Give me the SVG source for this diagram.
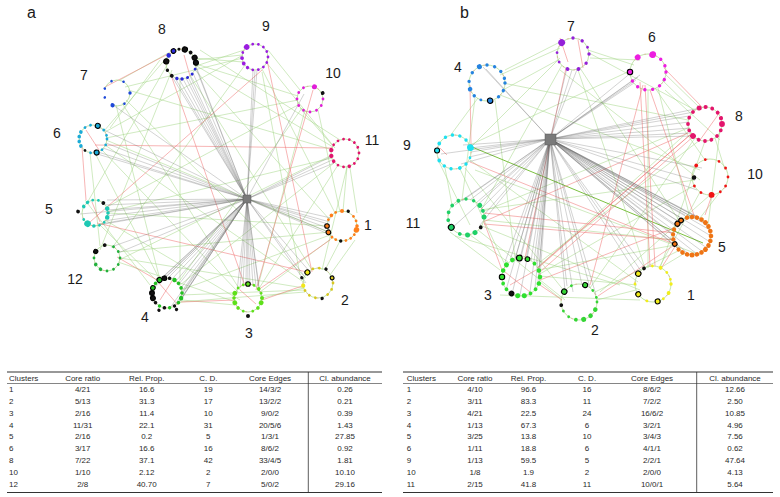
<svg xmlns="http://www.w3.org/2000/svg" width="780" height="497" viewBox="0 0 780 497">
<style>
.lbl{font-family:"Liberation Sans",Arial,sans-serif;font-size:14px;fill:#1a1a1a;text-anchor:middle}
.pl{font-family:"Liberation Sans",Arial,sans-serif;font-size:16px;fill:#1a1a1a}
.t{font-family:"Liberation Sans",Arial,sans-serif;font-size:8px;fill:#2a2a2a;text-anchor:middle}
.ring{fill:none;stroke:#a8d888;stroke-width:.7}
.rr{fill:none;stroke:#f07070;stroke-width:.6;stroke-dasharray:1.5 10;stroke-opacity:.8}
.hub{fill:#7a7a7a;stroke:#5a5a5a;stroke-width:.5}
.gy{fill:none;stroke:#5e5e5e;stroke-opacity:.5;stroke-width:.55}
.gn{fill:none;stroke:#a3d685;stroke-opacity:.85;stroke-width:.6}
.rd{fill:none;stroke:#f07878;stroke-opacity:.85;stroke-width:.65}
.k{fill:#111}
.c{stroke:#000;stroke-width:1.1}
.tl{stroke:#333;fill:none}
</style>

<!-- panel labels -->
<text class="pl" x="27" y="18">a</text>
<text class="pl" x="460" y="18">b</text>

<!-- ================= PANEL A CONNECTORS ================= -->
<g id="a-edges">
<path class="gn" d="M195 60L242 55M193 58L243 62M196 66L244 50M196 64L298 96M195 70L330 220M195 65L333 147M168 56L104 131M170 60L87 203M172 70L100 250M190 75L312 270M243 55L105 132M266 62L335 148M262 69L335 213M243 58L125 87M245 65L112 248M298 100L106 138M298 105L105 208M302 108L178 283M305 110L258 286M318 110L340 212M332 158L107 212M334 163L180 285M338 165L258 290M347 167L322 270M332 155L119 260M126 100L306 278M122 103L240 290M128 90L333 150M102 150L238 292M105 145L305 283M106 140L328 232M95 153L160 280M105 220L240 300M108 213L328 226M100 225L158 282M118 262L236 302M120 258L304 288M118 252L330 232M182 295L304 290M181 290L330 235M182 300L235 305M262 298L304 288M260 292L332 238M340 241L325 270M305 292L180 302M343 211L347 167M180 79L180 280M90 153L100 246M116 105L160 280M268 50L300 90M120 80L170 52M300 108L332 145M350 168L357 213M262 72L300 275M200 50L340 140M110 128L160 60M85 200L150 285M355 240L330 275"/>
<path class="rd" d="M105 87L170 53M172 78L245 286M262 70L90 222M267 60L312 272M313 90L256 290M95 145L333 148M82 147L86 200M97 223L307 272M117 257L157 280M181 302L235 300M330 240L258 290M305 285L262 300M158 282L178 305M172 281L160 300M240 290L256 304M184 55L190 76M86 130L99 150M92 202L100 222"/>
<path class="gy" d="M247 199L190 76M247 199L193 73M247 199L186 78M247 199L196 68M247 199L179 79M247 199L183 79M247 199L175 78M247 199L194 61M247 199L171 75M247 199L188 77M247 199L253 70M247 199L255 70M247 199L257 70M247 199L113 105M247 199L304 94M247 199L98 152M247 199L103 148M247 199L106 143M247 199L100 128M247 199L94 153M247 199L332 160M247 199L334 163M247 199L332 156M247 199L105 205M247 199L107 210M247 199L106 216M247 199L104 221M247 199L100 224M247 199L93 226M247 199L107 200M247 199L80 214M247 199L328 228M247 199L329 232M247 199L330 222M247 199L333 236M247 199L328 224M247 199L331 218M247 199L111 247M247 199L118 253M247 199L305 277M247 199L310 272M247 199L306 283M247 199L160 280M247 199L164 279M247 199L168 278M247 199L172 279M247 199L176 281M247 199L179 284M247 199L181 288M247 199L182 293M247 199L182 297M247 199L180 301M247 199L178 304M247 199L155 284M247 199L153 289M247 199L174 306M247 199L170 308M247 199L240 288M247 199L243 285M247 199L246 284M247 199L250 284M247 199L253 285M247 199L256 287M247 199L259 290M247 199L237 292M247 199L260 294M247 199L248 284"/>
</g>

<!-- ================= PANEL A NODES ================= -->
<g id="a-hub"><rect class="hub" x="243" y="195" width="8" height="8"/></g>

<g id="a-c1"><g transform="translate(342 226)" fill="#ff7f1a"><circle class="ring" r="15"/><circle class="rr" r="15"/>
<circle cx="15" r="1.8" transform="rotate(0)"/><circle cx="15" r="2.8" transform="rotate(15)"/><circle cx="15" r="1.4" transform="rotate(35)"/><circle cx="15" r="1.4" transform="rotate(55)"/><circle cx="15" r="1.4" transform="rotate(75)"/><circle class="k" cx="15" r="1.7" transform="rotate(95)"/><circle cx="15" r="1.4" transform="rotate(115)"/><circle cx="15" r="1.4" transform="rotate(132)"/><circle class="c" cx="15" r="2.3" transform="rotate(155)"/><circle class="c" cx="15" r="2.3" transform="rotate(180)"/><circle cx="15" r="1.4" transform="rotate(205)"/><circle cx="15" r="1.8" transform="rotate(225)"/><circle cx="15" r="1.4" transform="rotate(245)"/><circle cx="15" r="2" transform="rotate(270)"/><circle class="k" cx="16" r="1.7" transform="rotate(293)"/><circle cx="15" r="1.4" transform="rotate(320)"/><circle cx="15" r="1.4" transform="rotate(340)"/></g>
<text class="lbl" x="368" y="230">1</text></g>

<g id="a-c2"><g transform="translate(318 283)" fill="#d8c820"><circle class="ring" r="15"/><circle class="rr" r="15"/>
<circle cx="15" r="1.4" transform="rotate(0)"/><circle cx="15" r="1.4" transform="rotate(25)"/><circle cx="15" r="1.4" transform="rotate(50)"/><circle class="k" cx="16" r="1.7" transform="rotate(75)"/><circle cx="15" r="1.4" transform="rotate(100)"/><circle cx="15" r="1.4" transform="rotate(125)"/><circle cx="15" r="1.4" transform="rotate(150)"/><circle cx="15" r="2.1" fill="#f0e818" transform="rotate(170)"/><circle class="k" cx="17" r="1.7" transform="rotate(198)"/><circle class="c" cx="15" r="2.5" fill="#f0e818" transform="rotate(225)"/><circle cx="15" r="1.4" transform="rotate(250)"/><circle cx="15" r="1.4" transform="rotate(275)"/><circle class="k" cx="16" r="1.7" transform="rotate(300)"/><circle class="c" cx="15" r="1.9" transform="rotate(340)"/></g>
<text class="lbl" x="345" y="305">2</text></g>

<g id="a-c3"><g transform="translate(248 298)" fill="#5ee01a"><circle class="ring" r="14"/><circle class="rr" r="14"/>
<circle cx="14" r="2" transform="rotate(0)"/><circle cx="14" r="2.4" transform="rotate(20)"/><circle cx="14" r="1.8" transform="rotate(45)"/><circle cx="14" r="1.4" transform="rotate(70)"/><circle class="k" cx="18" r="2" transform="rotate(90)"/><circle cx="14" r="1.4" transform="rotate(110)"/><circle cx="14" r="1.8" transform="rotate(135)"/><circle cx="14" r="2.4" transform="rotate(160)"/><circle cx="14" r="1.8" transform="rotate(180)"/><circle cx="14" r="2.4" transform="rotate(200)"/><circle cx="14" r="1.4" transform="rotate(225)"/><circle cx="14" r="1.4" transform="rotate(250)"/><circle class="c" cx="14" r="2.3" transform="rotate(270)"/><circle cx="14" r="1.4" transform="rotate(295)"/><circle cx="14" r="1.8" transform="rotate(320)"/><circle cx="14" r="1.4" transform="rotate(340)"/></g>
<text class="lbl" x="249" y="338">3</text></g>

<g id="a-c4"><g transform="translate(167 293)" fill="#22c022"><circle class="ring" r="15"/><circle class="rr" r="15"/>
<circle cx="15" r="1.8" transform="rotate(0)"/><circle cx="15" r="2.2" transform="rotate(20)"/><circle cx="15" r="1.8" transform="rotate(40)"/><circle class="k" cx="15" r="1.7" transform="rotate(60)"/><circle cx="15" r="1.7" transform="rotate(80)"/><circle class="k" cx="15" r="1.8" transform="rotate(100)"/><circle cx="15" r="1.7" transform="rotate(120)"/><circle class="k" cx="15" r="1.8" transform="rotate(140)"/><circle class="k c" cx="15" r="2.4" transform="rotate(160)"/><circle class="k c" cx="15" r="2.4" transform="rotate(180)"/><circle class="c" cx="15" r="2.3" transform="rotate(200)"/><circle cx="15" r="1.8" transform="rotate(220)"/><circle class="c" cx="15" r="2.5" transform="rotate(240)"/><circle class="k c" cx="15" r="2.3" transform="rotate(260)"/><circle class="k" cx="15" r="1.8" transform="rotate(280)"/><circle cx="15" r="2.2" transform="rotate(300)"/><circle cx="15" r="1.8" transform="rotate(320)"/><circle cx="15" r="1.8" transform="rotate(340)"/><circle class="k" cx="19" r="1.7" transform="rotate(115)"/><circle class="k" cx="19" r="1.7" transform="rotate(60)"/></g>
<text class="lbl" x="145" y="322">4</text></g>

<g id="a-c5"><g transform="translate(95 213)" fill="#1ec8b4"><circle class="ring" r="13"/><circle class="rr" r="13"/>
<circle cx="13" r="1.8" transform="rotate(0)"/><circle cx="13" r="2.3" transform="rotate(20)"/><circle cx="13" r="1.4" transform="rotate(45)"/><circle cx="13" r="1.4" transform="rotate(70)"/><circle cx="13" r="1.8" transform="rotate(95)"/><circle cx="13" r="3.3" transform="rotate(125)"/><circle cx="13" r="1.4" transform="rotate(150)"/><circle class="k" cx="17" r="1.9" transform="rotate(185)"/><circle cx="13" r="1.8" transform="rotate(210)"/><circle cx="13" r="1.8" transform="rotate(235)"/><circle cx="13" r="1.4" transform="rotate(260)"/><circle cx="13" r="1.4" transform="rotate(285)"/><circle class="k" cx="13" r="1.9" transform="rotate(310)"/><circle cx="13" r="2.3" transform="rotate(340)"/></g>
<text class="lbl" x="49" y="214">5</text></g>

<g id="a-c6"><g transform="translate(93 139)" fill="#1aaad8"><circle class="ring" r="14"/><circle class="rr" r="14"/>
<circle cx="14" r="1.4" transform="rotate(0)"/><circle cx="14" r="1.4" transform="rotate(25)"/><circle cx="14" r="1.4" transform="rotate(50)"/><circle class="c" cx="14" r="2.5" transform="rotate(75)"/><circle cx="14" r="1.4" transform="rotate(100)"/><circle class="k" cx="14" r="1.4" transform="rotate(125)"/><circle cx="14" r="1.8" transform="rotate(150)"/><circle cx="14" r="1.8" transform="rotate(170)"/><circle cx="14" r="1.8" transform="rotate(190)"/><circle cx="14" r="1.8" transform="rotate(210)"/><circle cx="14" r="1.4" transform="rotate(235)"/><circle cx="14" r="1.4" transform="rotate(260)"/><circle class="c" cx="14" r="2.5" transform="rotate(290)"/><circle cx="14" r="1.4" transform="rotate(320)"/><circle cx="14" r="1.4" transform="rotate(345)"/></g>
<text class="lbl" x="57" y="138">6</text></g>

<g id="a-c7"><g transform="translate(117 93)" fill="#1e48d8"><path class="ring" d="M-12 -5A13 13 0 1 1 -5 12"/>
<circle cx="13" r="1.3" transform="rotate(200)"/><circle cx="13" r="1.3" transform="rotate(245)"/><circle cx="13" r="1.3" transform="rotate(300)"/><circle cx="13" r="1.7" transform="rotate(0)"/><circle cx="13" r="1.3" transform="rotate(55)"/><circle cx="13" r="2.1" transform="rotate(110)"/><circle cx="13" r="1.3" transform="rotate(160)"/></g>
<text class="lbl" x="84" y="80">7</text></g>

<g id="a-c8"><g transform="translate(181 64)" fill="#2b2bd9"><circle class="ring" r="15"/><circle class="rr" r="15"/>
<circle cx="15" r="1.4" transform="rotate(20)"/><circle cx="15" r="1.5" transform="rotate(42)"/><circle cx="15" r="1.5" transform="rotate(64)"/><circle cx="15" r="1.7" transform="rotate(86)"/><circle cx="15" r="1.7" transform="rotate(106)"/><circle class="k" cx="15" r="1.9" transform="rotate(128)"/><circle class="k" cx="15" r="1.7" transform="rotate(155)"/><circle class="k c" cx="15" r="2.6" transform="rotate(190)"/><circle cx="15" r="2.3" transform="rotate(215)"/><circle class="c" cx="15" r="2.3" transform="rotate(240)"/><circle class="k" cx="15" r="1.5" transform="rotate(262)"/><circle class="k c" cx="15" r="2.6" transform="rotate(285)"/><circle class="k" cx="15" r="1.9" transform="rotate(310)"/><circle class="k c" cx="15" r="2.5" transform="rotate(335)"/><circle class="k c" cx="15" r="2.5" transform="rotate(355)"/></g>
<text class="lbl" x="162" y="34">8</text></g>

<g id="a-c9"><g transform="translate(255 57)" fill="#9b1de0"><circle class="ring" r="13"/><circle class="rr" r="13"/>
<circle cx="13" r="1.4" transform="rotate(0)"/><circle cx="13" r="1.4" transform="rotate(25)"/><circle cx="13" r="1.4" transform="rotate(50)"/><circle cx="13" r="1.4" transform="rotate(75)"/><circle cx="13" r="1.4" transform="rotate(100)"/><circle cx="13" r="1.7" transform="rotate(125)"/><circle cx="13" r="1.9" transform="rotate(150)"/><circle cx="13" r="1.9" transform="rotate(175)"/><circle cx="13" r="1.4" transform="rotate(200)"/><circle cx="13" r="2.8" transform="rotate(230)"/><circle cx="13" r="1.4" transform="rotate(260)"/><circle cx="13" r="1.4" transform="rotate(285)"/><circle cx="13" r="1.4" transform="rotate(310)"/><circle cx="13" r="1.4" transform="rotate(335)"/></g>
<text class="lbl" x="266" y="31">9</text></g>

<g id="a-c10"><g transform="translate(310 99)" fill="#e01ed8"><circle class="ring" r="13"/><circle class="rr" r="13"/>
<circle cx="13" r="1.4" transform="rotate(0)"/><circle cx="13" r="1.4" transform="rotate(30)"/><circle cx="13" r="1.4" transform="rotate(60)"/><circle cx="13" r="1.4" transform="rotate(90)"/><circle cx="13" r="1.4" transform="rotate(120)"/><circle cx="13" r="1.4" transform="rotate(150)"/><circle cx="13" r="1.4" transform="rotate(180)"/><circle cx="13" r="1.4" transform="rotate(210)"/><circle cx="13" r="1.4" transform="rotate(240)"/><circle cx="13" r="2.5" transform="rotate(290)"/><circle class="k" cx="14" r="1.9" transform="rotate(335)"/></g>
<text class="lbl" x="333" y="78">10</text></g>

<g id="a-c11"><g transform="translate(345 153)" fill="#e0156e"><circle class="ring" r="14"/><circle class="rr" r="14"/>
<circle cx="14" r="1.4" transform="rotate(0)"/><circle cx="14" r="1.4" transform="rotate(24)"/><circle cx="14" r="1.4" transform="rotate(48)"/><circle cx="14" r="1.8" transform="rotate(72)"/><circle cx="14" r="1.4" transform="rotate(96)"/><circle cx="14" r="1.4" transform="rotate(120)"/><circle cx="14" r="1.8" transform="rotate(144)"/><circle cx="14" r="2.2" transform="rotate(168)"/><circle cx="14" r="2.2" transform="rotate(192)"/><circle cx="14" r="1.4" transform="rotate(216)"/><circle cx="14" r="1.4" transform="rotate(240)"/><circle cx="14" r="1.4" transform="rotate(264)"/><circle cx="14" r="1.4" transform="rotate(288)"/><circle cx="14" r="1.4" transform="rotate(312)"/><circle cx="14" r="1.4" transform="rotate(336)"/></g>
<text class="lbl" x="372" y="145">11</text></g>

<g id="a-c12"><g transform="translate(107 258)" fill="#22b03c"><circle class="ring" r="13"/><circle class="rr" r="13"/>
<circle cx="13" r="1.4" transform="rotate(0)"/><circle cx="13" r="1.4" transform="rotate(30)"/><circle cx="13" r="1.4" transform="rotate(60)"/><circle cx="13" r="1.4" transform="rotate(90)"/><circle cx="13" r="1.8" transform="rotate(120)"/><circle cx="13" r="1.8" transform="rotate(150)"/><circle cx="13" r="1.4" transform="rotate(180)"/><circle class="k c" cx="13" r="2.1" transform="rotate(210)"/><circle class="k" cx="13" r="1.9" transform="rotate(260)"/><circle cx="13" r="1.4" transform="rotate(300)"/><circle cx="13" r="1.4" transform="rotate(330)"/></g>
<text class="lbl" x="75" y="284">12</text></g>

<!-- ================= PANEL B CONNECTORS ================= -->
<g id="b-edges">
<path class="gn" d="M588 50L634 65M590 58L640 60M560 48L500 75M558 60L503 90M560 58L470 148M562 65L480 212M589 53L695 110M580 68L680 222M662 80L695 112M664 73L700 108M648 90L648 268M655 88L705 160M632 70L470 145M658 88L690 218M478 98L450 136M475 98L462 200M503 83L688 120M495 100L515 258M500 95L700 170M715 138L725 170M720 130L708 225M690 130L537 268M695 138L590 288M705 141L660 268M688 128L482 212M720 192L700 218M700 192L660 266M695 185L538 275M445 168L452 205M460 169L505 265M470 160L638 282M465 168L565 292M470 235L508 262M478 230L565 300M484 220L674 240M482 226L640 290M540 282L562 300M540 276L637 285M538 270L675 245M597 300L636 290M595 292L680 250M660 268L685 253M480 210L695 180M645 268L578 70M505 70L560 42M450 232L500 270M540 262L700 140M600 292L710 195M475 170L700 255M438 160L470 225M500 295L640 300M455 236L620 285M560 70L700 180M665 90L720 140"/>
<path stroke="#7cc040" stroke-width="1" fill="none" d="M472 147L703 243"/>
<path class="rd" d="M470 85L471 145M566 68L525 258M640 82L650 266M645 85L655 266M643 85L590 285M664 68L703 108M650 90L695 218M690 135L537 268M695 135L540 272M688 133L483 222M470 162L674 244M484 213L675 233M484 224L676 240M540 280L674 228M538 268L692 133M598 296L676 244M660 270L676 245M502 270L484 222M562 300L540 285M578 40L583 68M568 62L560 38M700 140L720 112M712 195L705 215M447 155L440 148M505 272L530 292M510 285L536 270"/>
<path class="gy" stroke-opacity=".6" d="M550 139L567 68M550 139L572 70M550 139L578 67M550 139L638 77M550 139L636 80M550 139L640 75M550 139L634 83M550 139L632 72M550 139L483 67M550 139L486 69M550 139L689 116M550 139L689 122M550 139L690 128M550 139L692 133M550 139L694 112M550 139L695 136M550 139L700 108M550 139L470 148M550 139L471 152M550 139L463 145M550 139L469 157M550 139L441 154M550 139L461 164M550 139L695 180M550 139L702 168M550 139L697 190M550 139L455 205M550 139L462 201M550 139L470 200M550 139L476 203M550 139L481 209M550 139L452 228M550 139L480 225M550 139L483 216M550 139L676 225M550 139L678 221M550 139L681 218M550 139L685 215M550 139L690 216M550 139L695 216M550 139L700 218M550 139L704 221M550 139L707 225M550 139L710 230M550 139L711 236M550 139L710 242M550 139L707 248M550 139L703 252M550 139L697 254M550 139L690 255M550 139L683 253M550 139L678 248M550 139L674 242M550 139L673 234M550 139L505 262M550 139L510 260M550 139L515 259M550 139L520 258M550 139L526 259M550 139L531 261M550 139L536 265M550 139L539 270M550 139L540 276M550 139L538 282M550 139L535 288M550 139L530 292M550 139L520 295M550 139L512 294M550 139L506 290M550 139L565 290M550 139L567 286M550 139L573 292M550 139L582 285M550 139L590 288M550 139L596 295M550 139L638 276M550 139L641 271M550 139L645 268"/>
</g>

<!-- ================= PANEL B NODES ================= -->
<g id="b-hub"><rect class="hub" x="545" y="134" width="11" height="11"/></g>

<g id="b-c1"><g transform="translate(653 284)" fill="#f2ee1a"><circle class="ring" r="18"/><circle class="rr" r="18"/>
<circle cx="18" r="1.7" transform="rotate(0)"/><circle cx="18" r="1.9" transform="rotate(30)"/><circle cx="18" r="1.4" transform="rotate(55)"/><circle class="c" cx="18" r="2.5" transform="rotate(75)"/><circle cx="18" r="1.4" transform="rotate(110)"/><circle class="c" cx="18" r="2.5" transform="rotate(145)"/><circle cx="18" r="1.4" transform="rotate(180)"/><circle class="c" cx="18" r="2.7" transform="rotate(215)"/><circle class="k" cx="18" r="1.9" transform="rotate(240)"/><circle cx="18" r="1.4" transform="rotate(268)"/><circle cx="18" r="1.9" transform="rotate(295)"/><circle cx="18" r="1.4" transform="rotate(320)"/><circle cx="18" r="1.4" transform="rotate(345)"/></g>
<text class="lbl" x="691" y="300">1</text></g>

<g id="b-c2"><g transform="translate(579 302)" fill="#35d535"><circle class="ring" r="18"/><circle class="rr" r="18"/>
<circle cx="18" r="1.4" transform="rotate(0)"/><circle cx="18" r="2.3" transform="rotate(25)"/><circle cx="18" r="2.3" transform="rotate(50)"/><circle cx="18" r="2.5" transform="rotate(75)"/><circle cx="18" r="1.9" transform="rotate(100)"/><circle cx="18" r="1.4" transform="rotate(125)"/><circle cx="18" r="1.4" transform="rotate(150)"/><circle class="k" cx="18" r="1.9" transform="rotate(170)"/><circle class="c" cx="18" r="2.7" transform="rotate(215)"/><circle cx="18" r="1.4" transform="rotate(245)"/><circle class="c" cx="18" r="2.5" transform="rotate(290)"/><circle cx="18" r="1.4" transform="rotate(320)"/><circle cx="18" r="1.4" transform="rotate(345)"/></g>
<text class="lbl" x="595" y="335">2</text></g>

<g id="b-c3"><g transform="translate(521 277)" fill="#2fe02f"><circle class="ring" r="19"/><circle class="rr" r="19"/>
<circle cx="19" r="2.3" transform="rotate(0)"/><circle cx="19" r="2.3" transform="rotate(20)"/><circle cx="19" r="1.9" transform="rotate(40)"/><circle cx="19" r="1.9" transform="rotate(60)"/><circle cx="19" r="2.5" transform="rotate(80)"/><circle cx="19" r="2.5" transform="rotate(100)"/><circle class="k c" cx="19" r="2.3" transform="rotate(120)"/><circle cx="19" r="1.9" transform="rotate(140)"/><circle cx="19" r="1.9" transform="rotate(160)"/><circle class="c" cx="19" r="2.7" transform="rotate(180)"/><circle cx="19" r="2.3" transform="rotate(200)"/><circle cx="19" r="2.5" transform="rotate(220)"/><circle cx="19" r="2.3" transform="rotate(243)"/><circle class="c" cx="19" r="2.9" transform="rotate(265)"/><circle class="c" cx="19" r="2.3" transform="rotate(290)"/><circle cx="19" r="1.9" transform="rotate(315)"/><circle cx="19" r="2.3" transform="rotate(340)"/></g>
<text class="lbl" x="488" y="300">3</text></g>

<g id="b-c4"><g transform="translate(487 83)" fill="#2583e0"><circle class="ring" r="18"/><circle class="rr" r="18"/>
<circle cx="18" r="1.7" transform="rotate(0)"/><circle cx="18" r="1.7" transform="rotate(25)"/><circle cx="18" r="1.7" transform="rotate(50)"/><circle class="c" cx="18" r="2.7" transform="rotate(80)"/><circle cx="18" r="1.4" transform="rotate(110)"/><circle cx="18" r="1.7" transform="rotate(135)"/><circle cx="18" r="2.3" transform="rotate(160)"/><circle cx="18" r="1.7" transform="rotate(185)"/><circle cx="18" r="1.7" transform="rotate(215)"/><circle cx="18" r="2.5" transform="rotate(245)"/><circle cx="18" r="1.7" transform="rotate(270)"/><circle cx="18" r="1.7" transform="rotate(295)"/><circle cx="18" r="1.7" transform="rotate(320)"/><circle cx="18" r="1.7" transform="rotate(345)"/></g>
<text class="lbl" x="458" y="72">4</text></g>

<g id="b-c5"><g transform="translate(692 236)" fill="#ef7415"><circle class="ring" r="19"/><circle class="rr" r="19"/>
<circle cx="19" r="2.3" transform="rotate(0)"/><circle cx="19" r="2.3" transform="rotate(15)"/><circle cx="19" r="2.3" transform="rotate(30)"/><circle cx="19" r="2.5" transform="rotate(45)"/><circle cx="19" r="2.3" transform="rotate(60)"/><circle cx="19" r="2.3" transform="rotate(75)"/><circle cx="19" r="2.5" transform="rotate(90)"/><circle cx="19" r="2.3" transform="rotate(105)"/><circle cx="19" r="2.3" transform="rotate(120)"/><circle cx="19" r="2.1" transform="rotate(135)"/><circle class="c" cx="19" r="2.3" transform="rotate(155)"/><circle cx="19" r="2.1" transform="rotate(170)"/><circle cx="19" r="2.1" transform="rotate(185)"/><circle cx="19" r="2.1" transform="rotate(200)"/><circle class="c" cx="19" r="2.5" transform="rotate(220)"/><circle class="c" cx="19" r="2.3" transform="rotate(235)"/><circle cx="19" r="2.3" transform="rotate(255)"/><circle cx="19" r="2.3" transform="rotate(270)"/><circle cx="19" r="2.3" transform="rotate(285)"/><circle cx="19" r="2.3" transform="rotate(300)"/><circle cx="19" r="2.5" transform="rotate(315)"/><circle cx="19" r="2.3" transform="rotate(330)"/><circle cx="19" r="2.3" transform="rotate(345)"/></g>
<text class="lbl" x="722" y="252">5</text></g>

<g id="b-c6"><g transform="translate(648 72)" fill="#ec1ee0"><circle class="ring" r="18"/><circle class="rr" r="18"/>
<circle cx="18" r="1.7" transform="rotate(0)"/><circle cx="18" r="1.7" transform="rotate(25)"/><circle cx="18" r="1.7" transform="rotate(50)"/><circle cx="18" r="1.7" transform="rotate(75)"/><circle cx="18" r="1.7" transform="rotate(100)"/><circle cx="18" r="1.7" transform="rotate(125)"/><circle cx="18" r="1.7" transform="rotate(150)"/><circle class="c" cx="18" r="2.7" transform="rotate(180)"/><circle cx="18" r="2.9" transform="rotate(235)"/><circle cx="18" r="3.4" transform="rotate(285)"/><circle cx="18" r="1.7" transform="rotate(315)"/><circle cx="18" r="1.7" transform="rotate(340)"/></g>
<text class="lbl" x="652" y="42">6</text></g>

<g id="b-c7"><g transform="translate(573 54)" fill="#9420d8"><circle class="ring" r="16"/><circle class="rr" r="16"/>
<circle cx="16" r="1.7" transform="rotate(0)"/><circle cx="16" r="1.7" transform="rotate(35)"/><circle cx="16" r="1.9" transform="rotate(70)"/><circle cx="16" r="1.9" transform="rotate(110)"/><circle cx="16" r="1.4" transform="rotate(150)"/><circle cx="16" r="1.4" transform="rotate(185)"/><circle cx="16" r="3.4" transform="rotate(225)"/><circle cx="16" r="1.7" transform="rotate(270)"/><circle cx="16" r="1.7" transform="rotate(305)"/><circle cx="16" r="1.4" transform="rotate(335)"/></g>
<text class="lbl" x="571" y="31">7</text></g>

<g id="b-c8"><g transform="translate(705 124)" fill="#e3156c"><circle class="ring" r="17"/><circle class="rr" r="17"/>
<circle cx="17" r="2.9" transform="rotate(0)"/><circle cx="17" r="1.9" transform="rotate(22)"/><circle cx="17" r="1.9" transform="rotate(45)"/><circle cx="17" r="1.9" transform="rotate(68)"/><circle cx="17" r="1.9" transform="rotate(90)"/><circle cx="17" r="1.9" transform="rotate(112)"/><circle cx="17" r="2.9" transform="rotate(135)"/><circle cx="17" r="1.9" transform="rotate(158)"/><circle cx="17" r="1.9" transform="rotate(180)"/><circle cx="17" r="1.9" transform="rotate(202)"/><circle cx="17" r="1.9" transform="rotate(225)"/><circle cx="17" r="2.5" transform="rotate(250)"/><circle cx="17" r="2.1" transform="rotate(272)"/><circle cx="17" r="1.9" transform="rotate(295)"/><circle cx="17" r="1.9" transform="rotate(318)"/><circle cx="17" r="2.1" transform="rotate(340)"/></g>
<text class="lbl" x="739" y="121">8</text></g>

<g id="b-c9"><g transform="translate(454 152)" fill="#1ee0f0"><circle class="ring" r="17"/><circle class="rr" r="17"/>
<circle cx="17" r="3.4" transform="rotate(345)"/><circle cx="17" r="1.4" transform="rotate(20)"/><circle cx="17" r="1.7" transform="rotate(45)"/><circle cx="17" r="1.9" transform="rotate(70)"/><circle cx="17" r="1.7" transform="rotate(100)"/><circle cx="17" r="1.7" transform="rotate(125)"/><circle cx="17" r="1.9" transform="rotate(150)"/><circle class="c" cx="17" r="2.5" transform="rotate(185)"/><circle cx="17" r="1.9" transform="rotate(210)"/><circle cx="17" r="1.7" transform="rotate(240)"/><circle cx="17" r="1.7" transform="rotate(265)"/><circle cx="17" r="1.7" transform="rotate(290)"/><circle cx="17" r="1.7" transform="rotate(315)"/></g>
<text class="lbl" x="407" y="150">9</text></g>

<g id="b-c10"><g transform="translate(710 177)" fill="#f01414"><circle class="ring" r="18"/><circle class="rr" r="18"/>
<circle cx="18" r="1.4" transform="rotate(0)"/><circle cx="18" r="1.4" transform="rotate(30)"/><circle cx="18" r="1.4" transform="rotate(55)"/><circle cx="18" r="2.9" transform="rotate(85)"/><circle cx="18" r="1.4" transform="rotate(120)"/><circle cx="18" r="1.4" transform="rotate(150)"/><circle class="k" cx="16" r="2.3" transform="rotate(178)"/><circle cx="18" r="1.9" transform="rotate(220)"/><circle cx="18" r="1.4" transform="rotate(255)"/><circle cx="18" r="1.4" transform="rotate(300)"/><circle cx="18" r="1.4" transform="rotate(330)"/></g>
<text class="lbl" x="755" y="179">10</text></g>

<g id="b-c11"><g transform="translate(466 217)" fill="#1fd066"><circle class="ring" r="18"/><circle class="rr" r="18"/>
<circle cx="18" r="2.5" transform="rotate(0)"/><circle class="k" cx="18" r="1.9" transform="rotate(35)"/><circle cx="18" r="2.5" transform="rotate(60)"/><circle cx="18" r="2.5" transform="rotate(85)"/><circle cx="18" r="1.9" transform="rotate(110)"/><circle class="c" cx="18" r="2.9" transform="rotate(145)"/><circle cx="18" r="1.9" transform="rotate(170)"/><circle cx="18" r="1.9" transform="rotate(195)"/><circle cx="18" r="1.9" transform="rotate(220)"/><circle cx="18" r="1.9" transform="rotate(245)"/><circle cx="18" r="1.7" transform="rotate(270)"/><circle cx="18" r="1.7" transform="rotate(295)"/><circle cx="18" r="2.5" transform="rotate(320)"/><circle cx="18" r="1.9" transform="rotate(340)"/></g>
<text class="lbl" x="413" y="228">11</text></g>

<!-- ================= TABLE A ================= -->
<g id="table-a">
<line class="tl" x1="7" y1="372" x2="382" y2="372" stroke-width="1.1"/>
<line class="tl" x1="7" y1="383.5" x2="382" y2="383.5" stroke-width=".6"/>
<line class="tl" x1="7" y1="492.5" x2="382" y2="492.5" stroke-width="1.1"/>
<line class="tl" x1="308.3" y1="372" x2="308.3" y2="492.5" stroke-width=".8"/>
<g class="t">
<text x="9" y="381" text-anchor="start">Clusters</text><text x="82.7" y="381">Core ratio</text><text x="146.7" y="381">Rel. Prop.</text><text x="208.3" y="381">C. D.</text><text x="270" y="381">Core Edges</text><text x="345" y="381">Cl. abundance</text>
<text x="9" y="391.8" text-anchor="start">1</text><text x="82.7" y="391.8">4/21</text><text x="146.7" y="391.8">16.6</text><text x="208.3" y="391.8">19</text><text x="270" y="391.8">14/3/2</text><text x="345" y="391.8">0.26</text>
<text x="9" y="403.7" text-anchor="start">2</text><text x="82.7" y="403.7">5/13</text><text x="146.7" y="403.7">31.3</text><text x="208.3" y="403.7">17</text><text x="270" y="403.7">13/2/2</text><text x="345" y="403.7">0.21</text>
<text x="9" y="415.6" text-anchor="start">3</text><text x="82.7" y="415.6">2/16</text><text x="146.7" y="415.6">11.4</text><text x="208.3" y="415.6">10</text><text x="270" y="415.6">9/0/2</text><text x="345" y="415.6">0.39</text>
<text x="9" y="427.5" text-anchor="start">4</text><text x="82.7" y="427.5">11/31</text><text x="146.7" y="427.5">22.1</text><text x="208.3" y="427.5">31</text><text x="270" y="427.5">20/5/6</text><text x="345" y="427.5">1.43</text>
<text x="9" y="439.4" text-anchor="start">5</text><text x="82.7" y="439.4">2/16</text><text x="146.7" y="439.4">0.2</text><text x="208.3" y="439.4">5</text><text x="270" y="439.4">1/3/1</text><text x="345" y="439.4">27.85</text>
<text x="9" y="451.3" text-anchor="start">6</text><text x="82.7" y="451.3">3/17</text><text x="146.7" y="451.3">16.6</text><text x="208.3" y="451.3">16</text><text x="270" y="451.3">8/6/2</text><text x="345" y="451.3">0.92</text>
<text x="9" y="463.2" text-anchor="start">8</text><text x="82.7" y="463.2">7/22</text><text x="146.7" y="463.2">37.1</text><text x="208.3" y="463.2">42</text><text x="270" y="463.2">33/4/5</text><text x="345" y="463.2">1.81</text>
<text x="9" y="475.1" text-anchor="start">10</text><text x="82.7" y="475.1">1/10</text><text x="146.7" y="475.1">2.12</text><text x="208.3" y="475.1">2</text><text x="270" y="475.1">2/0/0</text><text x="345" y="475.1">10.10</text>
<text x="9" y="487" text-anchor="start">12</text><text x="82.7" y="487">2/8</text><text x="146.7" y="487">40.70</text><text x="208.3" y="487">7</text><text x="270" y="487">5/0/2</text><text x="345" y="487">29.16</text>
</g>
</g>

<!-- ================= TABLE B ================= -->
<g id="table-b">
<line class="tl" x1="403" y1="372" x2="773" y2="372" stroke-width="1.1"/>
<line class="tl" x1="403" y1="383.5" x2="773" y2="383.5" stroke-width=".6"/>
<line class="tl" x1="403" y1="492.5" x2="773" y2="492.5" stroke-width="1.1"/>
<line class="tl" x1="696.7" y1="372" x2="696.7" y2="492.5" stroke-width=".8"/>
<g class="t">
<text x="406.7" y="381" text-anchor="start">Clusters</text><text x="475" y="381">Core ratio</text><text x="528.5" y="381">Rel. Prop.</text><text x="587" y="381">C. D.</text><text x="652" y="381">Core Edges</text><text x="735" y="381">Cl. abundance</text>
<text x="406.7" y="391.8" text-anchor="start">1</text><text x="475" y="391.8">4/10</text><text x="528.5" y="391.8">96.6</text><text x="587" y="391.8">16</text><text x="652" y="391.8">8/6/2</text><text x="735" y="391.8">12.66</text>
<text x="406.7" y="403.7" text-anchor="start">2</text><text x="475" y="403.7">3/11</text><text x="528.5" y="403.7">83.3</text><text x="587" y="403.7">11</text><text x="652" y="403.7">7/2/2</text><text x="735" y="403.7">2.50</text>
<text x="406.7" y="415.6" text-anchor="start">3</text><text x="475" y="415.6">4/21</text><text x="528.5" y="415.6">22.5</text><text x="587" y="415.6">24</text><text x="652" y="415.6">16/6/2</text><text x="735" y="415.6">10.85</text>
<text x="406.7" y="427.5" text-anchor="start">4</text><text x="475" y="427.5">1/13</text><text x="528.5" y="427.5">67.3</text><text x="587" y="427.5">6</text><text x="652" y="427.5">3/2/1</text><text x="735" y="427.5">4.96</text>
<text x="406.7" y="439.4" text-anchor="start">5</text><text x="475" y="439.4">3/25</text><text x="528.5" y="439.4">13.8</text><text x="587" y="439.4">10</text><text x="652" y="439.4">3/4/3</text><text x="735" y="439.4">7.56</text>
<text x="406.7" y="451.3" text-anchor="start">6</text><text x="475" y="451.3">1/11</text><text x="528.5" y="451.3">18.8</text><text x="587" y="451.3">6</text><text x="652" y="451.3">4/1/1</text><text x="735" y="451.3">0.62</text>
<text x="406.7" y="463.2" text-anchor="start">9</text><text x="475" y="463.2">1/13</text><text x="528.5" y="463.2">59.5</text><text x="587" y="463.2">5</text><text x="652" y="463.2">2/2/1</text><text x="735" y="463.2">47.64</text>
<text x="406.7" y="475.1" text-anchor="start">10</text><text x="475" y="475.1">1/8</text><text x="528.5" y="475.1">1.9</text><text x="587" y="475.1">2</text><text x="652" y="475.1">2/0/0</text><text x="735" y="475.1">4.13</text>
<text x="406.7" y="487" text-anchor="start">11</text><text x="475" y="487">2/15</text><text x="528.5" y="487">41.8</text><text x="587" y="487">11</text><text x="652" y="487">10/0/1</text><text x="735" y="487">5.64</text>
</g>
</g>
</svg>
